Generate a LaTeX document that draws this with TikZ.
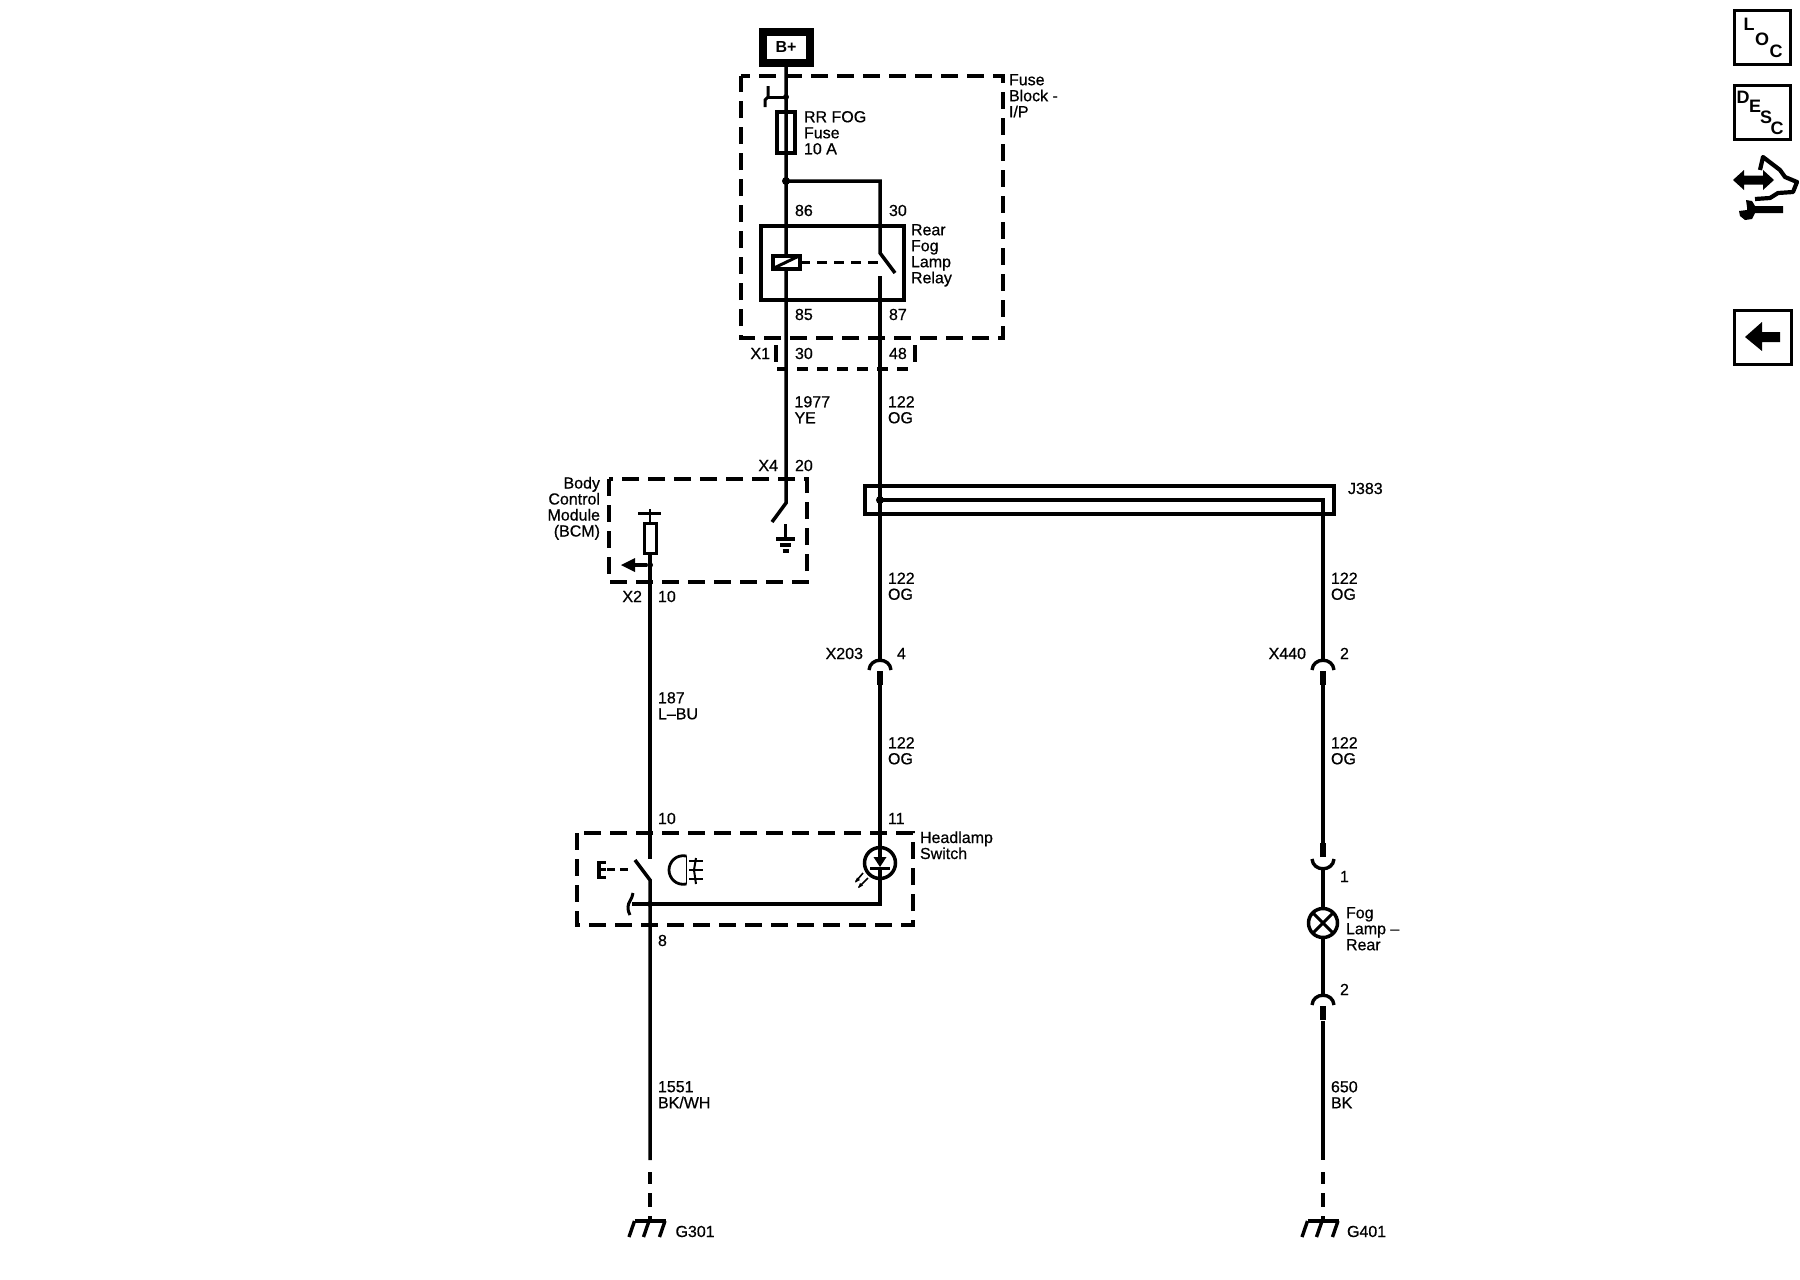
\documentclass[tikz,border=0pt]{standalone}
\usepackage{fontspec}
\newfontfamily\lblfont{Liberation Sans}[FakeBold=0.6]
\newfontfamily\icofont{Liberation Sans Bold}
\newcommand{\capstrut}{\rule{0pt}{16pt}}
\newcommand{\depstrut}{\rule[-4pt]{0pt}{4pt}}
\tikzset{
  wire/.style={line width=3.5pt,black},
  thinw/.style={line width=2.5pt,black},
  dashbox/.style={line width=3.5pt,black,dash pattern=on 17pt off 9pt},
  linkdash/.style={line width=3pt,black,dash pattern=on 10pt off 7pt},
  xonedash/.style={line width=3.2pt,black,dash pattern=on 11pt off 9pt},
  solidbox/.style={draw=black,line width=3.5pt,fill=white,inner sep=0,outer sep=0},
  openbox/.style={draw=black,line width=3.5pt,inner sep=0,outer sep=0},
  dotn/.style={circle,fill=black,minimum size=8pt,inner sep=0,outer sep=0},
  lblw/.style={anchor=west,inner sep=0,outer sep=0,align=left,font=\fontsize{16}{16}\selectfont\lblfont,execute at begin node=\capstrut,execute at end node=\depstrut},
  lble/.style={anchor=east,inner sep=0,outer sep=0,align=right,font=\fontsize{16}{16}\selectfont\lblfont,execute at begin node=\capstrut,execute at end node=\depstrut},
  multi/.style={yshift=-1.7pt},
  icotext/.style={inner sep=0,outer sep=0,font=\fontsize{18}{18}\selectfont\icofont},
  conntop/.pic={
    \draw[line width=3.4pt] (-11,10) .. controls (-10,-3) and (10,-3) .. (11,10);
    \draw[line width=6pt] (0,11) -- (0,25);
  },
  connbot/.pic={
    \draw[line width=3.4pt] (-11,-10) .. controls (-10,3) and (10,3) .. (11,-10);
    \draw[line width=6pt] (0,-12) -- (0,-26);
  },
  gndhatch/.pic={
    \draw[line width=2.2pt] (0,-4) -- (0,0);
    \draw[line width=3.4pt] (-15.5,0) -- (15.5,0);
    \foreach \xx in {-15.5,-1,15} \draw[line width=3.4pt] (\xx,0) -- (\xx-5.5,16);
  }
}
\begin{document}
\begin{tikzpicture}[x=1pt,y=-1pt]
\useasboundingbox[fill=white] (0,0) rectangle (1800,1280);

% named points
\coordinate (bplusb) at (786,63);
\coordinate (tapfuse) at (786,97);
\coordinate (relayj) at (786,181);
\coordinate (relayjr) at (880,181);
\coordinate (swtop) at (880,253);
\coordinate (swend) at (895,273);
\coordinate (swlow) at (880,276);
\coordinate (x4sw) at (786,503);
\coordinate (x4end) at (772,522);
\coordinate (j383j) at (880,500);
\coordinate (j383r) at (1323,500);
\coordinate (x203) at (880,660);
\coordinate (x203low) at (880,685);
\coordinate (x440) at (1323,660);
\coordinate (x440low) at (1323,685);
\coordinate (fogtop) at (1323,869);
\coordinate (fogstub) at (1323,843);
\coordinate (fogb) at (1323,995);
\coordinate (fogblow) at (1323,1021);
\coordinate (g3solid) at (650,1160);
\coordinate (g4solid) at (1323,1160);
\coordinate (g3) at (650,1221);
\coordinate (g4) at (1323,1221);
\coordinate (bcmfb) at (650,554);
\coordinate (hlsw) at (650,859);
\coordinate (hlswa) at (635,860);
\coordinate (hlswb) at (650,880);
\coordinate (hlj) at (650,904);
\coordinate (ledc) at (880,904);
\coordinate (ledtop) at (880,863);

% dashed outlines
\draw[dashbox,dash phase=8pt] (741,76) -- (1003,76) -- (1003,338) -- (741,338) -- cycle;
\draw[line width=3.2pt] (776,345) -- (776,362) (915,345) -- (915,362);
\draw[xonedash] (777,369) -- (913,369);
\draw[dashbox] (609,479) rectangle (807,582);
\draw[dashbox] (577,833) rectangle (913,925);

% wires
\draw[wire] (bplusb) -- (x4sw) -- (x4end);
\draw[wire] (relayj) -- (relayjr) -- (swtop) -- (swend);
\draw[wire] (swlow) -- (x203);
\draw[wire] (x203low) -- (ledtop);
\draw[wire] (ledtop) -- (ledc) -- (hlj);
\draw[wire] (j383j) -- (j383r) -- (x440);
\draw[wire] (x440low) -- (fogstub);
\draw[wire] (fogtop) -- (fogb);
\draw[wire] (fogblow) -- (g4solid);
\draw[wire] (bcmfb) -- (hlsw);
\draw[wire] (hlswa) -- (hlswb) -- (g3solid);
\draw[wire] (650,1172) -- (650,1184) (650,1193) -- (650,1207) (650,1216) -- (650,1221);
\draw[wire] (1323,1172) -- (1323,1184) (1323,1193) -- (1323,1207) (1323,1216) -- (1323,1221);

% B+
\node[solidbox,line width=8pt,minimum width=47pt,minimum height=31pt] (bplus) at (786.5,47.5) {};
\node[inner sep=0,font=\fontsize{16}{16}\selectfont\icofont] (bplust) at (786,47) {B+};

% fuse tap and fuse
\draw[line width=3pt] (tapfuse) -- (768,97);
\draw[line width=3pt] (768,86) -- (768,97) -- (765,100) -- (765,107);
\node[dotn,minimum size=6pt] (dfuse) at (tapfuse) {};
\node[openbox,minimum width=18pt,minimum height=41pt] (fuse) at (786,132.5) {};
\node[dotn] (drel) at (relayj) {};

% relay
\node[openbox,minimum width=143pt,minimum height=74pt] (relay) at (832.5,263) {};
\node[solidbox,line width=4.5pt,minimum width=27pt,minimum height=13pt] (coil) at (786.5,262.5) {};
\draw[line width=3pt] (774,268) -- (799,256);
\draw[linkdash] (coil.east) -- (880,262.5);

% J383
\node[openbox,minimum width=469pt,minimum height=28pt] (j383) at (1099.5,500) {};
\node[dotn] (dj383) at (j383j) {};

% BCM fuse and ground
\draw[thinw] (650,509) -- (650,522);
\draw[line width=3pt] (638,513) -- (661,513);
\node[solidbox,line width=3pt,minimum width=12pt,minimum height=30pt] (bcmfuse) at (650,538) {};
\node[dotn,minimum size=6pt] (dbcm) at (650,565) {};
\coordinate (bcmarr) at (633,565);
\draw[wire] (dbcm) -- (bcmarr);
\fill (621,565) -- (635,558) -- (635,572) -- cycle;
\draw[line width=3.4pt] (785.5,524) -- (785.5,539);
\draw[line width=3.4pt] (776,539) -- (795,539);
\draw[line width=3.4pt] (780,545) -- (791,545);
\draw[line width=3.4pt] (782.5,551) -- (788.5,551);

% connectors
\pic at (x203) {conntop};
\pic at (x440) {conntop};
\pic at (fogtop) {connbot};
\pic at (fogb) {conntop};

% lamp
\node[solidbox,circle,minimum size=29pt] (fog) at (1323,923) {};
\draw[line width=3pt] (fog.north west) -- (fog.south east) (fog.north east) -- (fog.south west);

% headlamp switch
\node[solidbox,circle,minimum size=31pt] (led) at (880,863) {};
\draw[wire] (led.north) -- (880,858);
\draw[wire] (880,868) -- (led.south);
\fill (873.5,857) -- (886.5,857) -- (880,867) -- cycle;
\draw[line width=3.5pt] (870,868.5) -- (890,868.5);
\draw[line width=1.6pt] (863,873) -- (855.7,881.7);
\fill (855,882.5) -- (857,877.5) -- (860,880) -- cycle;
\draw[line width=1.6pt] (868,878) -- (859,887);
\fill (858,888) -- (860,883) -- (863,885.5) -- cycle;
\draw[line width=3.4pt] (hlj) -- (632,904);
\draw[line width=3pt] (633,893) .. controls (632,900) and (628,902) .. (628,907) .. controls (628,911) and (629,913) .. (630,915);
\node[dotn,minimum size=6pt] (dhl) at (hlj) {};
% E actuator
\draw[line width=4.5pt] (599,861) -- (599,878);
\draw[line width=3pt] (597,862) -- (606,862) (597,869.5) -- (606,869.5) (597,877) -- (606,877);
\draw[line width=2.5pt,dash pattern=on 8pt off 5pt] (607,869.5) -- (632,869.5);
% fog lamp symbol
\draw[line width=2.8pt] (686.5,856) .. controls (676,854) and (669,862) .. (669,870) .. controls (669,878) and (676,886) .. (686.5,884);
\draw[line width=1.8pt] (686.5,856) -- (686.5,884);
\draw[line width=2pt] (689,861) -- (703,861) (689,870) -- (703,870) (689,879) -- (703,879);
\draw[line width=2pt] (696,858) -- (694,870) -- (696,884);

% grounds
\pic at (g3) {gndhatch};
\pic at (g4) {gndhatch};

% labels
\node[lblw,multi] (tfblk) at (1009,96) {Fuse\\Block -\\I/P};
\node[lblw,multi] (tfuse) at (804,133) {RR FOG\\Fuse\\10 A};
\node[lblw] (t86) at (795,210) {86};
\node[lblw] (t30a) at (889,210) {30};
\node[lblw,multi] (trel) at (911,254) {Rear\\Fog\\Lamp\\Relay};
\node[lblw] (t85) at (795,314) {85};
\node[lblw] (t87) at (889,314) {87};
\node[lble] (tx1) at (770,353) {X1};
\node[lblw] (t30b) at (795,353) {30};
\node[lblw] (t48) at (889,353) {48};
\node[lblw,multi] (t1977) at (794.5,410) {1977\\YE};
\node[lblw,multi] (t122a) at (888,410) {122\\OG};
\node[lble] (tx4) at (778,465) {X4};
\node[lblw] (t20) at (795,465) {20};
\node[lblw] (tj383) at (1348,488) {J383};
\node[lble,multi] (tbcm) at (600,507) {Body\\Control\\Module\\(BCM)};
\node[lble] (tx2) at (642,596) {X2};
\node[lblw] (t10a) at (658,596) {10};
\node[lblw,multi] (t122b) at (888,586.5) {122\\OG};
\node[lblw,multi] (t122c) at (1331,586.5) {122\\OG};
\node[lble] (tx203) at (863,653) {X203};
\node[lblw] (t4) at (897,653) {4};
\node[lble] (tx440) at (1306,653) {X440};
\node[lblw] (t2a) at (1340,653) {2};
\node[lblw,multi] (t187) at (658,706) {187\\L–BU};
\node[lblw,multi] (t122d) at (888,751) {122\\OG};
\node[lblw,multi] (t122e) at (1331,751) {122\\OG};
\node[lblw] (t10b) at (658,818) {10};
\node[lblw] (t11) at (888,818) {11};
\node[lblw,multi] (thl) at (920,845.5) {Headlamp\\Switch};
\node[lblw] (t1) at (1340,876) {1};
\node[lblw] (t8) at (658,940) {8};
\node[lblw,multi] (tfog) at (1346,929) {Fog\\Lamp –\\Rear};
\node[lblw] (t2b) at (1340,989) {2};
\node[lblw,multi] (t1551) at (658,1095) {1551\\BK/WH};
\node[lblw,multi] (t650) at (1331,1095) {650\\BK};
\node[lblw] (tg301) at (675.5,1231) {G301};
\node[lblw] (tg401) at (1347,1231) {G401};

% side icons
\node[openbox,minimum width=56pt,minimum height=54pt] (icoloc) at (1762.5,37.5) {};
\node[icotext] (il) at (1749,24) {L};
\node[icotext] (io) at (1762,39) {O};
\node[icotext] (ic) at (1776,51) {C};
\node[openbox,minimum width=56pt,minimum height=54pt] (icodesc) at (1762.5,112.5) {};
\node[icotext] (id) at (1743,97) {D};
\node[icotext] (ie) at (1755,106) {E};
\node[icotext] (is) at (1766,117) {S};
\node[icotext] (ic2) at (1777,128) {C};
\fill (1733,180) -- (1744,170) -- (1744,175.5) -- (1763,175.5) -- (1763,170) -- (1774,180) -- (1763,190) -- (1763,184.5) -- (1744,184.5) -- (1744,190) -- cycle;
\draw[line width=4.2pt,line join=round] (1760,170) -- (1763,157) -- (1780,170) -- (1785,177) -- (1797,182) -- (1793,192) -- (1778,193) -- (1770,198) -- (1755,199);
\fill (1783,206) -- (1783,213) -- (1755,213) -- (1752,219) -- (1745,220) -- (1740,216) -- (1739,211) -- (1747,210) -- (1747,207) -- (1746,200) -- (1752,201) -- (1755,206) -- cycle;
\node[openbox,minimum width=57pt,minimum height=54pt] (icoback) at (1763,337.5) {};
\fill (1745,337) -- (1762,322) -- (1762,332) -- (1780,332) -- (1780,342) -- (1762,342) -- (1762,351) -- cycle;
\end{tikzpicture}
\end{document}
